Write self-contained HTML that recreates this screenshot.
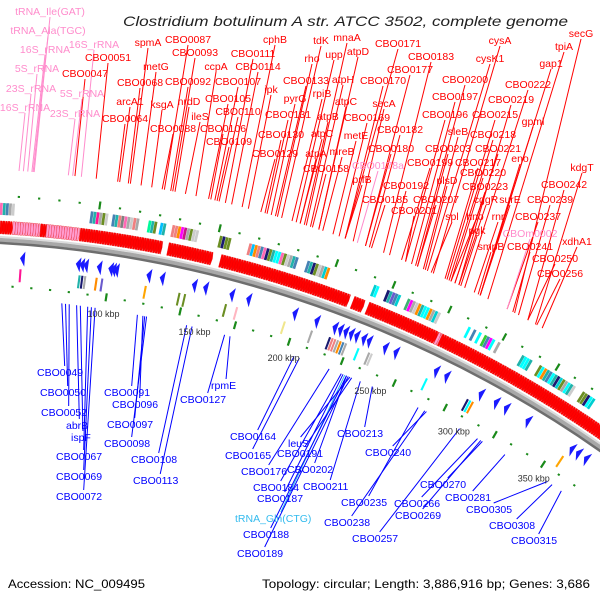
<!DOCTYPE html>
<html><head><meta charset="utf-8">
<style>
html,body{margin:0;padding:0;background:#fff;width:600px;height:600px;overflow:hidden;}
svg{display:block;font-family:"Liberation Sans",sans-serif;overflow:hidden;}
</style></head>
<body>
<svg id="map" width="600" height="600" viewBox="0 0 600 600" xmlns="http://www.w3.org/2000/svg">
<rect x="0" y="0" width="600" height="600" fill="#fff"/>
<g id="lines"></g>
<g id="ring"></g>
<g id="feat"></g>
<g id="labels"></g>
<text x="123" y="26" font-size="14" font-style="italic" fill="#222" textLength="445" lengthAdjust="spacingAndGlyphs">Clostridium botulinum A str. ATCC 3502, complete genome</text>
<text x="8" y="588" font-size="12" fill="#000" textLength="137" lengthAdjust="spacingAndGlyphs">Accession: NC_009495</text>
<text x="262" y="588" font-size="12" fill="#000" textLength="328" lengthAdjust="spacingAndGlyphs">Topology: circular; Length: 3,886,916 bp; Genes: 3,686</text>
</svg>
<script>
// ---- data (kbp positions) ----
const tickKbp = [100,150,200,250,300,350];
const tickLabels = ["100 kbp","150 kbp","200 kbp","250 kbp","300 kbp","350 kbp"];
const dotKbp = [40,50,60,70,80,90,100,110,120,130,140,150,160,170,180,190,200,210,220,230,240,250,260,270,280,290,300,310,320,330,340,350,360,370];
const outerDashKbp = [90,150,210,240,270,300,330];
const innerDashKbp = [100,140,170,200,230,260,290,320,350];
const fwdSegStart = [41.6,48,62,65,82,127,154,224,232,270,272];
const fwdSegEnd   = [48,62,65,82,124,150,222,230,270,272,372];
const fwdSegType  = ["cds","rna","cds","rna","cds","cds","cds","cds","cds","rna","cds"];
const revArrowKbp = [54,83,85,87,94,100,101.5,103,120,127,144,150,164,173,198,210,220,223,226,229,232,236,239,248,254,277,283,303,312,318,331,358,362,367];
const boxStart = [41,86,97,115,121,127,151,166,196,231,238,249,282,312,322,347];
const boxColors = [
 "ff69b4,20b2aa,4682b4,a9a9a9,cccccc",
 "4682b4,20b2aa,ff1493,a9a9a9,6b8e23,cccccc",
 "4682b4,20b2aa,f08080,808080,ff69b4,a9a9a9,cccccc,f08080,a9a9a9",
 "00fa9a,20b2aa,6b8e23",
 "00bfff,20b2aa",
 "f08080,f08080,ff8c00,ff00ff,c71585,a9a9a9,6b8e23,cccccc,cccccc",
 "6b8e23,191970,6b8e23,6b8e23",
 "f08080,00bfff,ff8c00,f08080,4682b4,ff69b4,191970,6b8e23,20b2aa,00ffff,00ffff,ff69b4,6b8e23,cccccc,a9a9a9,20b2aa,4682b4",
 "4682b4,20b2aa,191970,6b8e23,cccccc,a9a9a9,00ced1,ff8c00",
 "00ced1,00ffff",
 "191970,20b2aa,6a5acd,4682b4,00ced1",
 "3cb371,ff00ff,a9a9a9,cccccc,ff8c00,20b2aa,00ffff,00ffff,ff8c00,a9a9a9,00ced1,cccccc",
 "00ffff,,4682b4,,00ffff,,32cd32,4682b4,ff00ff,00ffff,,a9a9a9",
 "20b2aa,00ffff,00ffff,20b2aa",
 "6b8e23,00ffff,ff8c00,20b2aa,4682b4,00ffff,20b2aa,191970,00ced1,6b8e23,a9a9a9,00ffff,20b2aa,cccccc",
 "6b8e23,6b8e23,191970,00ffff,00ced1"
];
const innerBoxKbp = [53,84,85.5,87,93,96,119,137,140,162,168,194,209,219,220.5,222,223.5,225,226.5,228,235,241,242.5,274,298,299.5,301,356];
const innerBoxColor = ["ff1493","20b2aa","191970","a9a9a9","ff8c00","6a5acd","ffa500","6b8e23","6b8e23","6b8e23","ffb6c1","f0e68c","a9a9a9","191970","f08080","f08080","a9a9a9","ff8c00","4682b4","a9a9a9","00ffff","a9a9a9","cccccc","00ffff","191970","00ffff","ff8c00","ffa500"];
const upText = ["tRNA_Ile(GAT)","tRNA_Ala(TGC)","16S_rRNA","5S_rRNA","23S_rRNA","16S_rRNA","16S_rRNA","5S_rRNA","23S_rRNA",
"CBO0051","CBO0047","spmA","CBO0087","CBO0093","metG","CBO0068","CBO0092","ccpA","cphB","CBO0111","CBO0114","CBO0107","arcA1","ksgA","nrdD","CBO0105","ileS","CBO0110","CBO0064","CBO0088","CBO0106","CBO0109","ipk","CBO0129","CBO0130","CBO0131","pyrG","CBO0133","rho","tdK","upp","mnaA","atpD","atpH","rpiB","atpC","atpB","atpC","atpA","CBO0158","mreB","metE","CBO0169","secA","CBO0170","CBO0177","CBO0171","CBO0183","CBO0182","CBO0180","CBO0178a","prfB","CBO0185","CBO0192","CBO0201","CBO0207","CBO0199","CBO0203","plsD","sleB","CBO0196","CBO0197","CBO0200","cysK1","cysA","CBO0215","CBO0219","CBO0222","gap1","tpiA","secG","gpml","CBO0218","CBO0221","eno","CBO0217","CBO0220","CBO0223","cggR","surE","spl","hno","rnr","pgk","smpB","CBO0237","CBO0239","CBO0242","kdgT","CBOm0002","CBO0241","xdhA1","CBO0250","CBO0256"];
const upX = [50,48,45,37,31,25,94,82,75,108,85,148,188,195,156,140,188,216,275,253,258,238,130,162,189,228,200,238,125,173,223,229,271,275,281,288,295,306,312,321,334,347,358,343,322,346,328,322,316,326,342,356,367,384,383,410,398,431,400,391,378,362,385,406,414,436,430,448,447,458,445,455,465,490,500,495,511,528,551,564,581,533,493,498,520,478,483,485,486,510,452,475,498,477,491,538,550,564,582,530,530,577,555,560];
const upY = [15,34,53,72,92,111,48,97,117,61,77,46,43,56,70,86,85,70,43,57,70,85,105,108,105,102,120,115,122,132,132,145,93,157,138,118,102,84,62,44,58,41,55,83,97,105,120,137,157,172,155,139,121,107,84,73,47,60,133,152,169,183,203,189,214,203,166,152,184,135,118,100,83,62,44,118,103,88,67,50,37,125,138,152,162,166,176,190,203,203,220,220,220,234,250,220,203,188,171,237,250,245,262,277];
const upKbp = [56.5,56,55.4,53.4,51.3,49.2,79.3,75.1,73,86.5,76.2,103.1,119.7,123.8,108.3,102.1,122.8,135.2,158,149.7,152.8,144.5,97.9,113.5,124.9,141.4,130,146.6,96.9,118.6,142.5,145.6,161.1,167.3,169.4,170.4,172.5,174.6,175.6,177.7,185,190.1,196.4,192.2,182.9,196.4,189.1,187,187,193.2,198.4,203.6,206.7,213.9,209.8,220.2,209.8,229.5,222.2,220.2,216,209.8,223.3,232.6,240.9,247.1,238.8,247.1,251.2,250.2,240.9,244,246.1,252.3,255.4,262.6,268.9,272,280.3,284.4,298.9,280.3,263.7,266.8,280.3,261.6,264.7,266.8,268.9,280.3,254.3,264.7,277.1,269.9,279.2,294.8,301,306.1,310.3,294.8,297.9,314,306.1,311];
const upKind = ["rna","rna","rna","rna","rna","rna","rna","rna","rna"];
const lowText = ["CBO0049","CBO0050","CBO0052","abrB","ispF","CBO0067","CBO0069","CBO0072","CBO0091","CBO0096","CBO0097","CBO0098","CBO0108","CBO0113","CBO0127","rpmE","CBO0164","CBO0165","CBO0176","CBO0184","CBO0187","tRNA_Gln(CTG)","CBO0188","CBO0189","leuS","CBO0191","CBO0202","CBO0211","CBO0213","CBO0240","CBO0235","CBO0238","CBO0257","CBO0270","CBO0266","CBO0269","CBO0281","CBO0305","CBO0308","CBO0315"];
const lowX = [37,40,41,66,71,56,56,56,104,112,107,104,131,133,180,211,230,225,241,253,257,235,243,237,288,277,287,303,337,365,341,324,352,420,394,395,445,466,489,511];
const lowY = [376,396,416,429,441,460,480,500,396,408,428,447,463,484,403,389,440,459,475,491,502,522,538,557,447,457,473,490,437,456,506,526,542,488,507,519,501,513,529,544];
const lowKbp = [77,79,81,85,87,91,93,95,118,121,122,123,145,148,166,169,205,208,225,232,233,234,235,236,237,238,235,243,250,282,277,281,302,316,313,315,330,357,360,366];

// ---- geometry ----
const CX=-66, CY=1403, R=1165;
const NS="http://www.w3.org/2000/svg";
function ang(k){return (-0.8+0.0965*k)*Math.PI/180;}
function pt(k,rho){const t=ang(k);return [CX+rho*Math.sin(t), CY-rho*Math.cos(t)];}
function mk(tag,parent,attrs){const e=document.createElementNS(NS,tag);for(const a in attrs)e.setAttribute(a,attrs[a]);parent.appendChild(e);return e;}
function poly(pts){return pts.map(p=>p[0].toFixed(1)+","+p[1].toFixed(1)).join(" ");}
const gLines=document.getElementById('lines'), gRing=document.getElementById('ring'), gF=document.getElementById('feat'), gL=document.getElementById('labels');

// backbone (arc path over visible range)
[[R+3,2,"#dcdcdc"],[R,4,"#a8a8a8"],[R-3,2.5,"#6e6e6e"]].forEach(s=>{
  const a=pt(35,s[0]), b=pt(380,s[0]);
  const c=mk('path',gRing,{d:`M${a[0].toFixed(1)},${a[1].toFixed(1)} A${s[0]},${s[0]} 0 0 1 ${b[0].toFixed(1)},${b[1].toFixed(1)}`,fill:"none",stroke:s[2],"stroke-width":s[1]});
  
  
});

for(let i=0;i<upText.length;i++){
  const col = (upKind[i]==="rna"||upText[i]==="CBO0178a"||upText[i]==="CBOm0002")?"#ff8ccc":"#ff0000";
  const e=pt(upKbp[i],R+70);
  const l=mk('line',gLines,{x1:upX[i],y1:upY[i]+2,x2:e[0],y2:e[1],stroke:col,"stroke-width":1});
  
  
  const t=mk('text',gL,{x:upX[i],y:upY[i],"text-anchor":"middle","font-size":10.5,fill:col});
  t.textContent=upText[i];
  
  
}
for(let i=0;i<lowText.length;i++){
  const col = lowText[i].startsWith("tRNA")?"#33bbee":"#0000ff";
  const t=mk('text',gL,{x:lowX[i],y:lowY[i],"font-size":10.5,fill:col});
  t.textContent=lowText[i];
  
  
  const w=t.getComputedTextLength()||44;
  const e=pt(lowKbp[i],R-58);
  const l=mk('line',gLines,{x1:lowX[i]+0.6*w,y1:lowY[i]-10,x2:e[0],y2:e[1],stroke:col,"stroke-width":1});
  
  
}
for(let s=0;s<fwdSegStart.length;s++){
  const col=fwdSegType[s]==="rna"?"#ff9ccf":"#ff0000";
  const L=1.7;
  for(let k=fwdSegStart[s]; k<fwdSegEnd[s]-0.2; k+=1.3){
    const k2=Math.min(k+L,fwdSegEnd[s]);
    const h=k+(k2-k)*0.55;
    const p=mk('polygon',gF,{points:poly([pt(k,R+6),pt(h,R+6),pt(k2,R+12.5),pt(h,R+19),pt(k,R+19)]),fill:col,stroke:"#e00000","stroke-width":0.3});
    
    
  }
}
for(let c=0;c<boxStart.length;c++){
  const cols=boxColors[c].split(",");
  for(let j=0;j<cols.length;j++){
    if(!cols[j])continue;
    const k=boxStart[c]+j*1.5;
    const b=mk('polygon',gF,{points:poly([pt(k,R+25),pt(k+1.35,R+25),pt(k+1.35,R+37),pt(k,R+37)]),fill:"#"+cols[j]});
    
    
  }
}
for(let i=0;i<revArrowKbp.length;i++){
  const k=revArrowKbp[i];
  const p=mk('polygon',gF,{points:poly([pt(k-1.2,R-17),pt(k+1.3,R-10),pt(k+1.3,R-25)]),fill:"#1a1aff"});
  
  
}
for(let i=0;i<innerBoxKbp.length;i++){
  const k=innerBoxKbp[i];
  const b=mk('polygon',gF,{points:poly([pt(k,R-28),pt(k+1.1,R-28),pt(k+1.1,R-41),pt(k,R-41)]),fill:"#"+innerBoxColor[i]});
  
  
}
for(let i=0;i<dotKbp.length;i++){
  const k=dotKbp[i];
  const od=outerDashKbp.includes(k), id=innerDashKbp.includes(k);
  const a=pt(k,R+(od?40:43)), b=pt(k,R+(od?48:45));
  const o=mk('line',gF,{x1:a[0],y1:a[1],x2:b[0],y2:b[1],stroke:"#1a8a1a","stroke-width":2.2});
  
  
  const c=pt(k,R-(id?42:45)), d=pt(k,R-(id?50:47));
  const n=mk('line',gF,{x1:c[0],y1:c[1],x2:d[0],y2:d[1],stroke:"#1a8a1a","stroke-width":2.2});
  
  
}
for(let i=0;i<tickKbp.length;i++){
  const p=pt(tickKbp[i],R-63);
  const t=mk('text',gL,{x:p[0],y:p[1]+3,"text-anchor":"middle","font-size":9,fill:"#333"});
  t.textContent=tickLabels[i];
  
  
}
</script>
</body></html>
